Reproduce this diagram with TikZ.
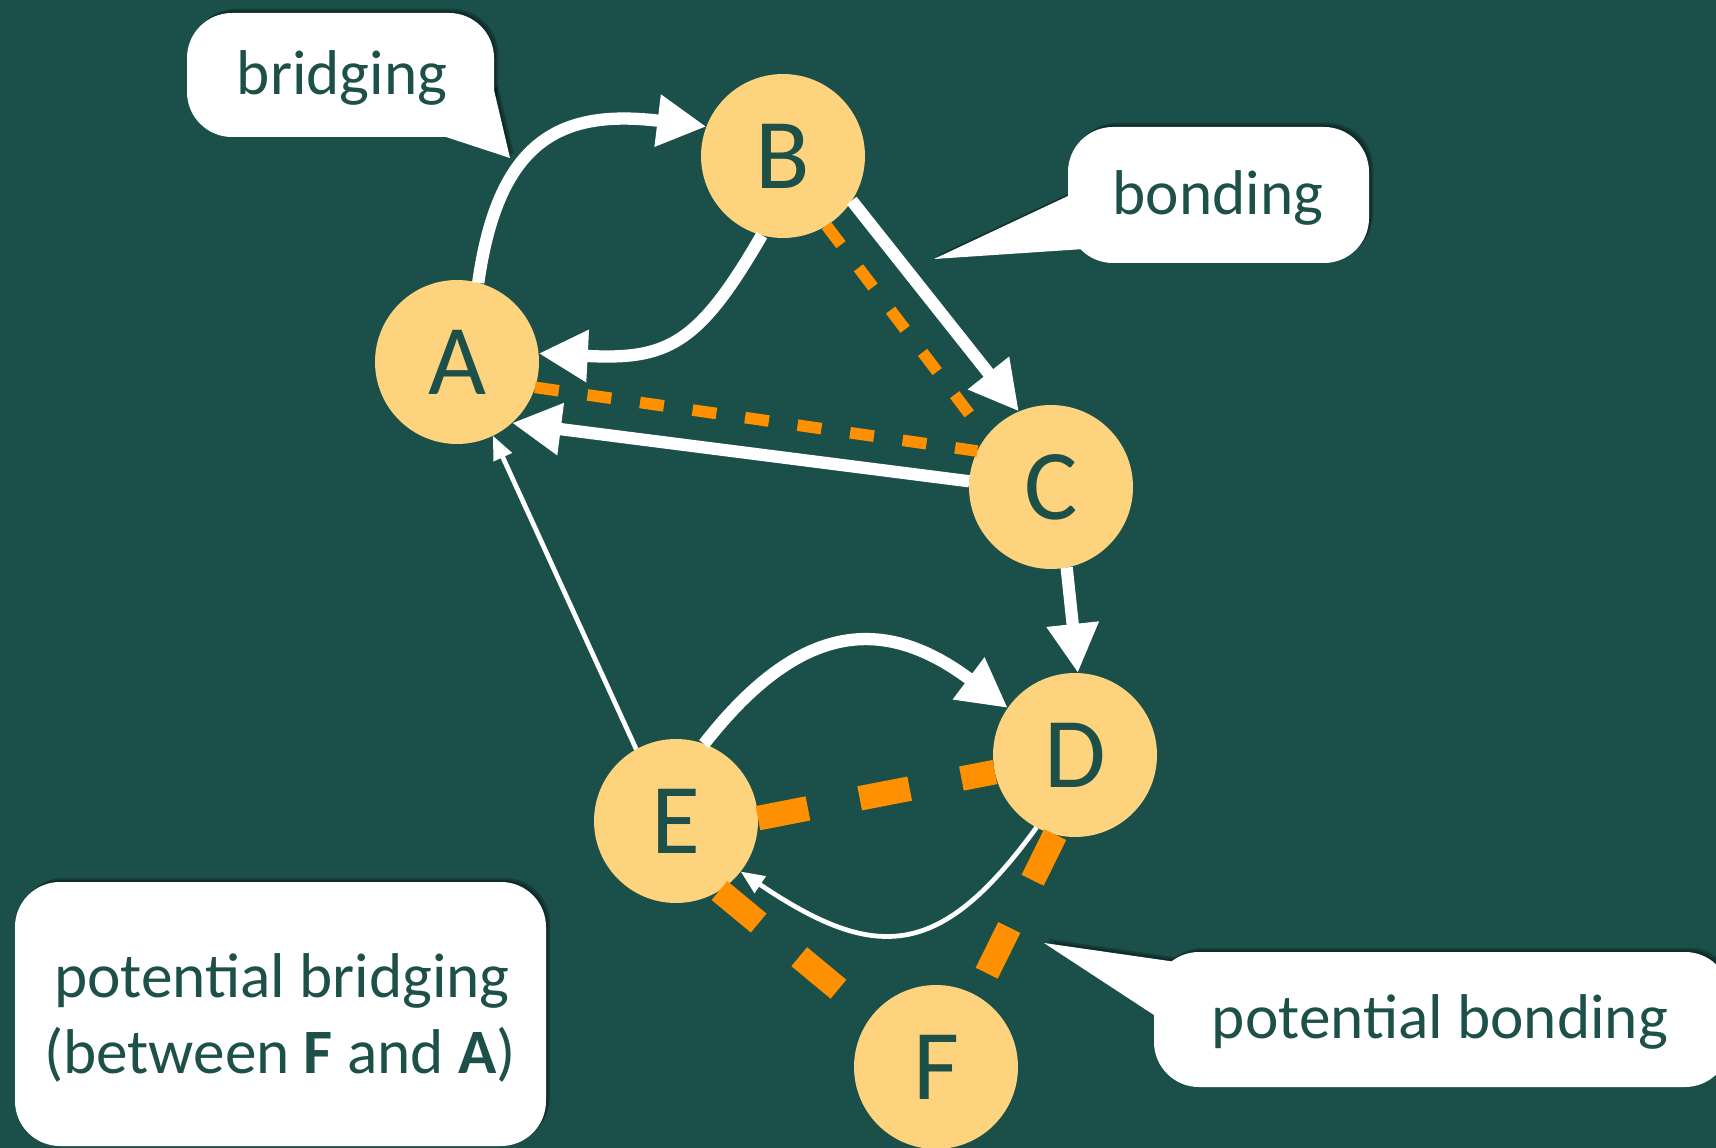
\documentclass[tikz,border=0pt]{standalone}
\usepackage{fontspec}
\setmainfont{Carlito}
\usetikzlibrary{arrows.meta}
\definecolor{bg}{RGB}{27,79,74}
\definecolor{ink}{RGB}{30,80,74}
\definecolor{nodefill}{RGB}{253,212,125}
\definecolor{orng}{RGB}{255,145,0}
\begin{document}
\begin{tikzpicture}[x=0.02cm,y=0.02cm,
  vtx/.style={circle, fill=nodefill, minimum size=3.28cm, inner sep=0pt, outer sep=0pt, text=ink, font=\fontsize{57}{60}\selectfont},
  bigarrow/.style={draw=white, line width=7pt, -{Triangle[length=28pt,width=28pt]}},
  thinarrow/.style={draw=white, line width=2.7pt, -{Triangle[length=13.5pt,width=11pt]}},
  potl/.style={draw=orng, line width=6.6pt, dash pattern=on 13.7pt off 16.5pt},
  potlthick/.style={draw=orng, line width=14pt, dash pattern=on 29pt off 30pt},
  lbl/.style={text=ink, font=\fontsize{36}{44}\selectfont, anchor=base, inner sep=0pt},
  bubble/.style={fill=white, rounded corners=0.9cm},
  shade1/.style={fill=black, opacity=0.25, rounded corners=0.9cm},
]
\useasboundingbox (0,0) rectangle (1716,-1148);
\clip (0,0) rectangle (1716,-1148);
\fill[bg] (0,0) rectangle (1716,-1148);

% shadows of the callouts
\foreach \s in {2,4}{
  \begin{scope}[shift={(\s,\s)}]
    \fill[shade1] (187,-13) rectangle (494,-137);
    \fill[black,opacity=0.25] (446,-137) -- (494,-90) -- (510,-158) -- cycle;
    \fill[shade1] (1068,-127) rectangle (1369,-263);
    \fill[black,opacity=0.25] (1068,-196) -- (1084,-249) -- (934,-259) -- cycle;
    \fill[shade1] (1154,-952) rectangle (1730,-1087);
    \fill[black,opacity=0.25] (1176,-962) -- (1154,-1015) -- (1044,-943) -- cycle;
    \fill[shade1] (15,-882) rectangle (546,-1146);
  \end{scope}
}

% callouts
\fill[bubble] (187,-13) rectangle (494,-137);
\fill[white] (446,-137) -- (494,-90) -- (510,-158) -- cycle;
\fill[bubble] (1068,-127) rectangle (1369,-263);
\fill[white] (1068,-196) -- (1084,-249) -- (934,-259) -- cycle;
\fill[bubble] (1154,-952) rectangle (1730,-1087);
\fill[white] (1176,-962) -- (1154,-1015) -- (1044,-943) -- cycle;
\fill[bubble] (15,-882) rectangle (546,-1146);

\node[lbl] (tbri) at (342,-95) {bridging};
\node[lbl] (tbon) at (1218,-215) {bonding};
\node[lbl] (tpbo) at (1440,-1038) {potential bonding};
\node[lbl] (tpb1) at (282,-997) {potential bridging};
\node[lbl] (tpb2) at (280,-1073) {(between \textbf{F} and \textbf{A})};

% vertices
\node[vtx] (A) at (457,-362) {A};
\node[vtx] (B) at (783,-156) {B};
\node[vtx] (C) at (1051,-487) {C};
\node[vtx] (D) at (1075,-755) {D};
\node[vtx] (E) at (676,-821) {E};
\node[vtx] (F) at (936,-1067) {F};

% edges
\draw[bigarrow] (A.75) to[out=82,in=173,looseness=1.35] (B.159);
\draw[bigarrow] (B.255) to[out=240,in=-3,looseness=1.3] (A.6);
\draw[bigarrow] (B.-33) -- (C.113);
\draw[bigarrow] (C.176) -- (A.-48);
\draw[thinarrow] (E.119) -- (A.-64);
\draw[bigarrow] (C.-79) -- (D.88);
\draw[bigarrow] (E.70) to[out=52,in=143,looseness=1.3] (D.145);
\draw[thinarrow] (D.242) to[out=234,in=-34,looseness=1.4] (E.-38);
\draw[potl] (B.-58) -- (C.142);
\draw[potl] (A.-18) -- (C.154);
\draw[potlthick] (E.2) -- (D.192);
\draw[potlthick] (E.-58) -- (F.142);
\draw[potlthick] (D.-104) -- (F.61);
\end{tikzpicture}
\end{document}
